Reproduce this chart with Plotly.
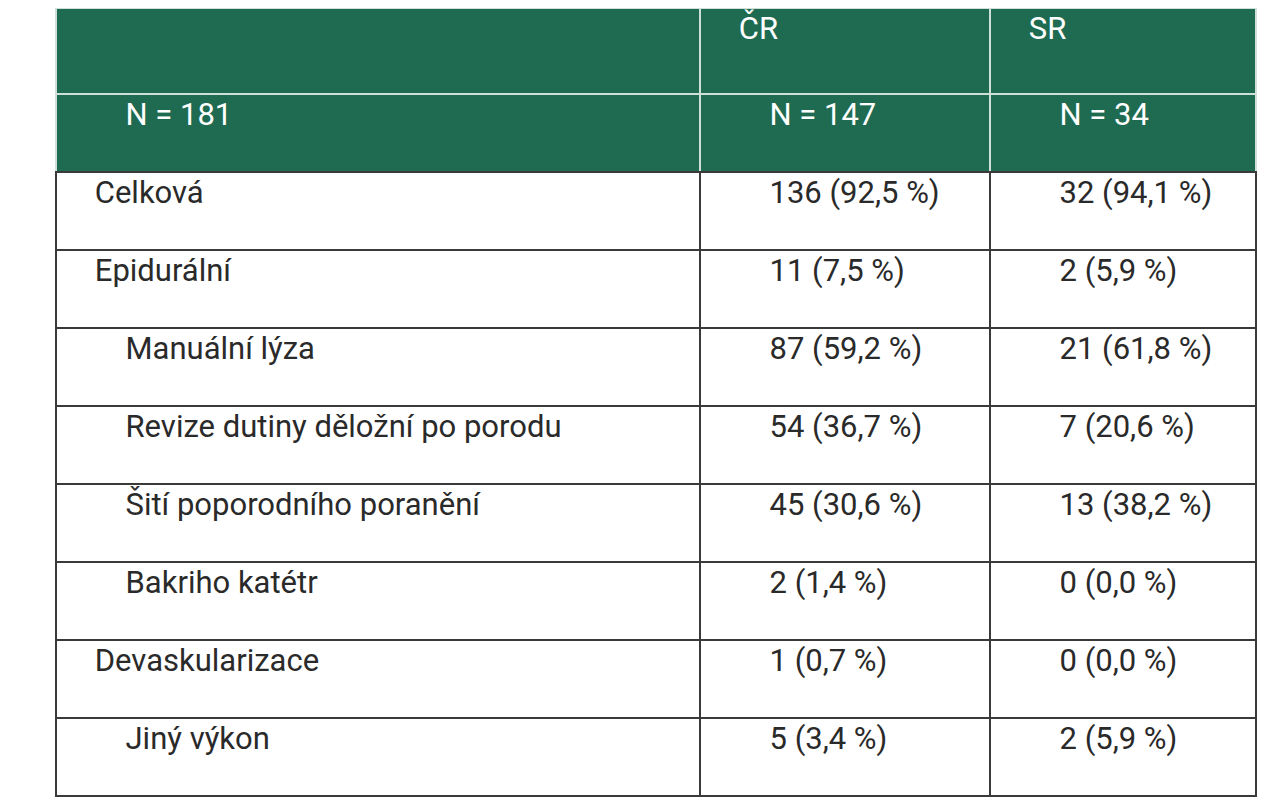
import plotly.graph_objects as go

header = ["", "ČR", "SR"]
row_labels = ["N = 181", "Celková", "Epidurální", "Manuální lýza",
              "Revize dutiny děložní po porodu", "Šití poporodního poranění",
              "Bakriho katétr", "Devaskularizace", "Jiný výkon"]
cr_values = ["N = 147", "136 (92,5 %)", "11 (7,5 %)", "87 (59,2 %)", "54 (36,7 %)",
             "45 (30,6 %)", "2 (1,4 %)", "1 (0,7 %)", "5 (3,4 %)"]
sr_values = ["N = 34", "32 (94,1 %)", "2 (5,9 %)", "21 (61,8 %)", "7 (20,6 %)",
             "13 (38,2 %)", "0 (0,0 %)", "0 (0,0 %)", "2 (5,9 %)"]

green = "#1f6b52"
n = len(row_labels)
fills = [green] + ["white"] * (n - 1)
font_cols = ["white"] + ["#2a2a2a"] * (n - 1)
line_cols = ["#cfe0d8"] + ["#3a3a3a"] * (n - 1)
pad = "\u00a0\u00a0\u00a0\u00a0"

fig = go.Figure(go.Table(
    columnwidth=[644, 290, 266],
    header=dict(values=header, fill_color=green, height=86, align="left",
                prefix=pad,
                line=dict(color="#cfe0d8", width=2),
                font=dict(family="Roboto", size=31, color="white")),
    cells=dict(values=[row_labels, cr_values, sr_values], prefix=pad,
               fill_color=[fills] * 3, height=78, align="left",
               line=dict(color=[line_cols] * 3, width=2),
               font=dict(family="Roboto", size=31, color=[font_cols] * 3)),
))
fig.update_layout(width=1277, height=800, margin=dict(l=48, r=29, t=0, b=10),
                  paper_bgcolor="white")
fig.write_html("out.html")
